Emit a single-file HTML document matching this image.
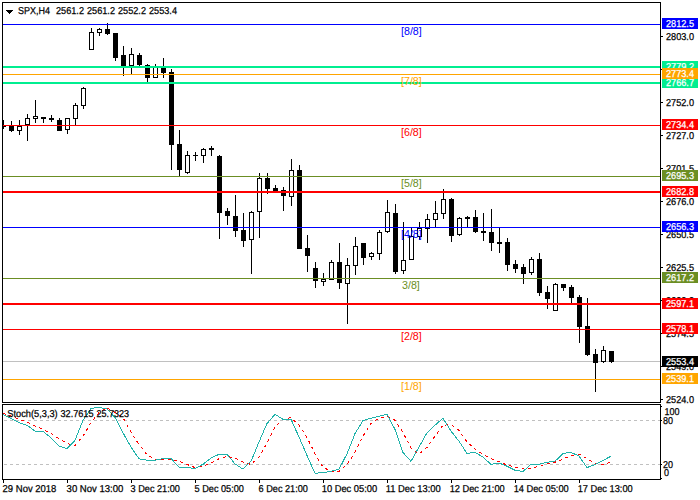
<!DOCTYPE html>
<html lang="en"><head><meta charset="utf-8"><title>SPX,H4</title>
<style>html,body{margin:0;padding:0;background:#fff}svg{display:block}text{font-family:"Liberation Sans",sans-serif}.ax{font-size:10px;text-rendering:geometricPrecision;fill:#000;stroke:#000;stroke-width:.25px}.lb{font-size:10.67px}.bx{font-size:10px;text-rendering:geometricPrecision;fill:#fff;stroke:#fff;stroke-width:.25px}</style></head><body>
<svg width="700" height="500" viewBox="0 0 700 500">
<rect width="700" height="500" fill="#fff"/>
<g shape-rendering="crispEdges">
<rect x="3" y="361" width="657" height="1" fill="#C0C0C0"/>
<g id="candles">
<rect x="3" y="120" width="1" height="9" fill="#000"/>
<rect x="1" y="125" width="5" height="2" fill="#000"/>
<rect x="11" y="121" width="1" height="11" fill="#000"/>
<rect x="9" y="126" width="5" height="5" fill="#000"/>
<rect x="19" y="120" width="1" height="15" fill="#000"/>
<rect x="17" y="126" width="5" height="5" fill="#000"/>
<rect x="18" y="127" width="3" height="3" fill="#fff"/>
<rect x="27" y="114" width="1" height="27" fill="#000"/>
<rect x="25" y="118" width="5" height="7" fill="#000"/>
<rect x="26" y="119" width="3" height="5" fill="#fff"/>
<rect x="35" y="100" width="1" height="23" fill="#000"/>
<rect x="33" y="116" width="5" height="3" fill="#000"/>
<rect x="34" y="117" width="3" height="1" fill="#fff"/>
<rect x="43" y="117" width="1" height="6" fill="#000"/>
<rect x="41" y="117" width="5" height="2" fill="#000"/>
<rect x="51" y="115" width="1" height="7" fill="#000"/>
<rect x="49" y="118" width="5" height="2" fill="#000"/>
<rect x="59" y="118" width="1" height="13" fill="#000"/>
<rect x="57" y="120" width="5" height="11" fill="#000"/>
<rect x="67" y="118" width="1" height="16" fill="#000"/>
<rect x="65" y="118" width="5" height="12" fill="#000"/>
<rect x="66" y="119" width="3" height="10" fill="#fff"/>
<rect x="75" y="103" width="1" height="23" fill="#000"/>
<rect x="73" y="105" width="5" height="14" fill="#000"/>
<rect x="74" y="106" width="3" height="12" fill="#fff"/>
<rect x="83" y="87" width="1" height="22" fill="#000"/>
<rect x="81" y="88" width="5" height="18" fill="#000"/>
<rect x="82" y="89" width="3" height="16" fill="#fff"/>
<rect x="91" y="28" width="1" height="22" fill="#000"/>
<rect x="89" y="32" width="5" height="18" fill="#000"/>
<rect x="90" y="33" width="3" height="16" fill="#fff"/>
<rect x="99" y="28" width="1" height="8" fill="#000"/>
<rect x="97" y="29" width="5" height="4" fill="#000"/>
<rect x="98" y="30" width="3" height="2" fill="#fff"/>
<rect x="107" y="23" width="1" height="12" fill="#000"/>
<rect x="105" y="29" width="5" height="5" fill="#000"/>
<rect x="115" y="33" width="1" height="28" fill="#000"/>
<rect x="113" y="33" width="5" height="25" fill="#000"/>
<rect x="123" y="46" width="1" height="30" fill="#000"/>
<rect x="121" y="55" width="5" height="11" fill="#000"/>
<rect x="131" y="48" width="1" height="27" fill="#000"/>
<rect x="129" y="54" width="5" height="12" fill="#000"/>
<rect x="130" y="55" width="3" height="10" fill="#fff"/>
<rect x="139" y="53" width="1" height="13" fill="#000"/>
<rect x="137" y="55" width="5" height="10" fill="#000"/>
<rect x="147" y="64" width="1" height="18" fill="#000"/>
<rect x="145" y="65" width="5" height="13" fill="#000"/>
<rect x="155" y="64" width="1" height="14" fill="#000"/>
<rect x="153" y="66" width="5" height="12" fill="#000"/>
<rect x="154" y="67" width="3" height="10" fill="#fff"/>
<rect x="163" y="58" width="1" height="20" fill="#000"/>
<rect x="161" y="68" width="5" height="5" fill="#000"/>
<rect x="171" y="69" width="1" height="101" fill="#000"/>
<rect x="169" y="72" width="5" height="73" fill="#000"/>
<rect x="179" y="130" width="1" height="47" fill="#000"/>
<rect x="177" y="144" width="5" height="26" fill="#000"/>
<rect x="187" y="151" width="1" height="23" fill="#000"/>
<rect x="185" y="155" width="5" height="18" fill="#000"/>
<rect x="186" y="156" width="3" height="16" fill="#fff"/>
<rect x="195" y="152" width="1" height="9" fill="#000"/>
<rect x="193" y="155" width="5" height="1" fill="#000"/>
<rect x="203" y="148" width="1" height="15" fill="#000"/>
<rect x="201" y="149" width="5" height="7" fill="#000"/>
<rect x="202" y="150" width="3" height="5" fill="#fff"/>
<rect x="211" y="146" width="1" height="10" fill="#000"/>
<rect x="209" y="148" width="5" height="2" fill="#000"/>
<rect x="219" y="155" width="1" height="84" fill="#000"/>
<rect x="217" y="156" width="5" height="57" fill="#000"/>
<rect x="227" y="208" width="1" height="17" fill="#000"/>
<rect x="225" y="211" width="5" height="5" fill="#000"/>
<rect x="235" y="195" width="1" height="42" fill="#000"/>
<rect x="233" y="216" width="5" height="15" fill="#000"/>
<rect x="243" y="213" width="1" height="34" fill="#000"/>
<rect x="241" y="230" width="5" height="11" fill="#000"/>
<rect x="251" y="211" width="1" height="63" fill="#000"/>
<rect x="249" y="212" width="5" height="28" fill="#000"/>
<rect x="250" y="213" width="3" height="26" fill="#fff"/>
<rect x="259" y="173" width="1" height="65" fill="#000"/>
<rect x="257" y="178" width="5" height="34" fill="#000"/>
<rect x="258" y="179" width="3" height="32" fill="#fff"/>
<rect x="267" y="173" width="1" height="21" fill="#000"/>
<rect x="265" y="178" width="5" height="11" fill="#000"/>
<rect x="275" y="185" width="1" height="7" fill="#000"/>
<rect x="273" y="188" width="5" height="4" fill="#000"/>
<rect x="283" y="187" width="1" height="24" fill="#000"/>
<rect x="281" y="190" width="5" height="6" fill="#000"/>
<rect x="291" y="159" width="1" height="47" fill="#000"/>
<rect x="289" y="170" width="5" height="27" fill="#000"/>
<rect x="290" y="171" width="3" height="25" fill="#fff"/>
<rect x="299" y="165" width="1" height="84" fill="#000"/>
<rect x="297" y="170" width="5" height="79" fill="#000"/>
<rect x="307" y="235" width="1" height="37" fill="#000"/>
<rect x="305" y="248" width="5" height="8" fill="#000"/>
<rect x="315" y="262" width="1" height="26" fill="#000"/>
<rect x="313" y="268" width="5" height="13" fill="#000"/>
<rect x="323" y="273" width="1" height="13" fill="#000"/>
<rect x="321" y="279" width="5" height="3" fill="#000"/>
<rect x="322" y="280" width="3" height="1" fill="#fff"/>
<rect x="331" y="260" width="1" height="20" fill="#000"/>
<rect x="329" y="262" width="5" height="18" fill="#000"/>
<rect x="330" y="263" width="3" height="16" fill="#fff"/>
<rect x="339" y="243" width="1" height="46" fill="#000"/>
<rect x="337" y="262" width="5" height="21" fill="#000"/>
<rect x="347" y="258" width="1" height="66" fill="#000"/>
<rect x="345" y="265" width="5" height="19" fill="#000"/>
<rect x="346" y="266" width="3" height="17" fill="#fff"/>
<rect x="355" y="237" width="1" height="38" fill="#000"/>
<rect x="353" y="246" width="5" height="20" fill="#000"/>
<rect x="354" y="247" width="3" height="18" fill="#fff"/>
<rect x="363" y="243" width="1" height="22" fill="#000"/>
<rect x="361" y="243" width="5" height="15" fill="#000"/>
<rect x="371" y="252" width="1" height="8" fill="#000"/>
<rect x="369" y="253" width="5" height="4" fill="#000"/>
<rect x="370" y="254" width="3" height="2" fill="#fff"/>
<rect x="379" y="230" width="1" height="30" fill="#000"/>
<rect x="377" y="232" width="5" height="22" fill="#000"/>
<rect x="378" y="233" width="3" height="20" fill="#fff"/>
<rect x="387" y="200" width="1" height="33" fill="#000"/>
<rect x="385" y="212" width="5" height="20" fill="#000"/>
<rect x="386" y="213" width="3" height="18" fill="#fff"/>
<rect x="395" y="204" width="1" height="70" fill="#000"/>
<rect x="393" y="213" width="5" height="59" fill="#000"/>
<rect x="403" y="222" width="1" height="52" fill="#000"/>
<rect x="401" y="260" width="5" height="11" fill="#000"/>
<rect x="402" y="261" width="3" height="9" fill="#fff"/>
<rect x="411" y="228" width="1" height="32" fill="#000"/>
<rect x="409" y="236" width="5" height="24" fill="#000"/>
<rect x="410" y="237" width="3" height="22" fill="#fff"/>
<rect x="419" y="222" width="1" height="18" fill="#000"/>
<rect x="417" y="228" width="5" height="9" fill="#000"/>
<rect x="418" y="229" width="3" height="7" fill="#fff"/>
<rect x="427" y="214" width="1" height="29" fill="#000"/>
<rect x="425" y="219" width="5" height="10" fill="#000"/>
<rect x="426" y="220" width="3" height="8" fill="#fff"/>
<rect x="435" y="201" width="1" height="27" fill="#000"/>
<rect x="433" y="213" width="5" height="7" fill="#000"/>
<rect x="434" y="214" width="3" height="5" fill="#fff"/>
<rect x="443" y="189" width="1" height="30" fill="#000"/>
<rect x="441" y="199" width="5" height="15" fill="#000"/>
<rect x="442" y="200" width="3" height="13" fill="#fff"/>
<rect x="451" y="198" width="1" height="44" fill="#000"/>
<rect x="449" y="199" width="5" height="37" fill="#000"/>
<rect x="459" y="217" width="1" height="19" fill="#000"/>
<rect x="457" y="218" width="5" height="17" fill="#000"/>
<rect x="458" y="219" width="3" height="15" fill="#fff"/>
<rect x="467" y="216" width="1" height="12" fill="#000"/>
<rect x="465" y="217" width="5" height="2" fill="#000"/>
<rect x="475" y="210" width="1" height="23" fill="#000"/>
<rect x="473" y="217" width="5" height="15" fill="#000"/>
<rect x="483" y="213" width="1" height="28" fill="#000"/>
<rect x="481" y="231" width="5" height="2" fill="#000"/>
<rect x="491" y="209" width="1" height="42" fill="#000"/>
<rect x="489" y="232" width="5" height="11" fill="#000"/>
<rect x="499" y="227" width="1" height="26" fill="#000"/>
<rect x="497" y="242" width="5" height="2" fill="#000"/>
<rect x="507" y="238" width="1" height="33" fill="#000"/>
<rect x="505" y="242" width="5" height="23" fill="#000"/>
<rect x="515" y="260" width="1" height="13" fill="#000"/>
<rect x="513" y="264" width="5" height="5" fill="#000"/>
<rect x="523" y="264" width="1" height="20" fill="#000"/>
<rect x="521" y="267" width="5" height="7" fill="#000"/>
<rect x="531" y="257" width="1" height="18" fill="#000"/>
<rect x="529" y="259" width="5" height="14" fill="#000"/>
<rect x="530" y="260" width="3" height="12" fill="#fff"/>
<rect x="539" y="253" width="1" height="43" fill="#000"/>
<rect x="537" y="259" width="5" height="34" fill="#000"/>
<rect x="547" y="286" width="1" height="23" fill="#000"/>
<rect x="545" y="292" width="5" height="7" fill="#000"/>
<rect x="555" y="283" width="1" height="28" fill="#000"/>
<rect x="553" y="284" width="5" height="27" fill="#000"/>
<rect x="554" y="285" width="3" height="25" fill="#fff"/>
<rect x="563" y="284" width="1" height="7" fill="#000"/>
<rect x="561" y="284" width="5" height="4" fill="#000"/>
<rect x="571" y="285" width="1" height="18" fill="#000"/>
<rect x="569" y="287" width="5" height="11" fill="#000"/>
<rect x="579" y="295" width="1" height="48" fill="#000"/>
<rect x="577" y="297" width="5" height="30" fill="#000"/>
<rect x="587" y="298" width="1" height="58" fill="#000"/>
<rect x="585" y="326" width="5" height="29" fill="#000"/>
<rect x="595" y="349" width="1" height="43" fill="#000"/>
<rect x="593" y="354" width="5" height="9" fill="#000"/>
<rect x="603" y="346" width="1" height="17" fill="#000"/>
<rect x="601" y="350" width="5" height="12" fill="#000"/>
<rect x="602" y="351" width="3" height="10" fill="#fff"/>
<rect x="611" y="351" width="1" height="12" fill="#000"/>
<rect x="609" y="351" width="5" height="11" fill="#000"/>
</g>
<rect x="0" y="100" width="2" height="60" fill="#fff"/>
<g id="levels">
<rect x="3" y="24" width="657" height="1" fill="#0000FF"/>
<rect x="3" y="66" width="657" height="2" fill="#00EE90"/>
<rect x="3" y="82" width="657" height="2" fill="#00EE90"/>
<rect x="3" y="74" width="657" height="1" fill="#FFA500"/>
<rect x="3" y="125" width="657" height="1" fill="#FF0000"/>
<rect x="3" y="176" width="657" height="1" fill="#6B8E23"/>
<rect x="3" y="191" width="657" height="2" fill="#FF0000"/>
<rect x="3" y="227" width="657" height="1" fill="#0000FF"/>
<rect x="3" y="278" width="657" height="1" fill="#6B8E23"/>
<rect x="3" y="303" width="657" height="2" fill="#FF0000"/>
<rect x="3" y="329" width="657" height="1" fill="#FF0000"/>
<rect x="3" y="379" width="657" height="1" fill="#FFA500"/>
</g>
<line x1="4" y1="420.5" x2="660" y2="420.5" stroke="#C0C0C0" stroke-width="1" stroke-dasharray="3 3"/>
<line x1="4" y1="464.5" x2="660" y2="464.5" stroke="#C0C0C0" stroke-width="1" stroke-dasharray="3 3"/>
<polyline points="3,413.4 11,416.0 19,419.3 27,421.8 35,426.0 43,429.4 51,433.6 59,438.6 67,443.4 75,445.4 83,436.1 91,422.7 99,412.6 107,407.8 115,412.6 123,417.6 131,432.0 139,444.5 147,454.6 155,459.7 163,459.7 171,459.2 179,461.3 187,464.4 195,467.6 203,466.4 211,463.0 219,458.8 227,456.3 235,458.0 243,462.2 251,464.4 259,457.1 267,442.9 275,426.9 283,419.3 291,417.6 299,425.2 307,437.4 315,453.7 323,467.2 331,471.4 339,471.4 347,464.7 355,452.1 363,436.1 371,423.5 379,418.2 387,416.3 395,420.2 403,432.7 411,447.9 419,454.1 427,447.4 435,436.1 443,425.2 451,424.7 459,430.3 467,442.0 475,449.1 483,454.6 491,458.5 499,461.8 507,465.0 515,467.2 523,468.9 531,468.1 539,466.4 547,463.5 555,462.2 563,459.2 571,455.5 579,454.1 587,458.8 595,463.5 603,464.4 611,462.2" fill="none" stroke="#FF0000" stroke-width="1" stroke-dasharray="3 3.5"/>
<polyline points="3,414.3 11,418.5 19,422.7 27,425.2 35,431.1 43,431.4 51,437.8 59,446.2 67,448.7 75,440.3 83,420.2 91,408.6 99,407.2 107,409.1 115,417.4 123,432.8 131,447.0 139,458.8 147,460.2 155,460.2 163,458.5 171,458.5 179,467.2 187,467.6 195,468.4 203,464.3 211,458.0 219,454.3 227,454.3 235,463.9 243,469.2 251,461.3 259,442.0 267,423.5 275,414.3 283,419.3 291,419.3 299,437.0 307,455.5 315,473.3 323,472.6 331,471.4 339,469.2 347,453.8 355,433.6 363,420.5 371,418.2 379,416.3 387,414.3 395,429.4 403,452.5 411,461.3 419,447.0 427,432.8 435,425.2 443,418.2 451,431.1 459,441.2 467,453.4 475,452.4 483,457.1 491,464.4 499,463.0 507,466.2 515,470.3 523,471.4 531,464.4 539,464.4 547,462.2 555,461.3 563,453.4 571,452.4 579,456.0 587,467.6 595,464.5 603,460.4 611,456.2" fill="none" stroke="#20B2AA" stroke-width="1"/>
<rect x="2" y="2" width="659" height="1" fill="#000"/>
<rect x="2" y="2" width="1" height="401" fill="#000"/>
<rect x="660" y="2" width="1" height="401" fill="#000"/>
<rect x="660" y="404" width="1" height="76" fill="#000"/>
<rect x="2" y="402" width="659" height="1" fill="#000"/>
<rect x="2" y="404" width="659" height="1" fill="#000"/>
<rect x="2" y="404" width="1" height="76" fill="#000"/>
<rect x="2" y="479" width="659" height="1" fill="#000"/>
<rect x="661" y="36" width="2" height="1" fill="#000"/>
<rect x="661" y="69" width="2" height="1" fill="#000"/>
<rect x="661" y="102" width="2" height="1" fill="#000"/>
<rect x="661" y="135" width="2" height="1" fill="#000"/>
<rect x="661" y="168" width="2" height="1" fill="#000"/>
<rect x="661" y="201" width="2" height="1" fill="#000"/>
<rect x="661" y="234" width="2" height="1" fill="#000"/>
<rect x="661" y="267" width="2" height="1" fill="#000"/>
<rect x="661" y="300" width="2" height="1" fill="#000"/>
<rect x="661" y="333" width="2" height="1" fill="#000"/>
<rect x="661" y="366" width="2" height="1" fill="#000"/>
<rect x="661" y="399" width="2" height="1" fill="#000"/>
<rect x="661" y="406" width="1" height="1" fill="#000"/>
<rect x="661" y="420" width="1" height="1" fill="#000"/>
<rect x="661" y="464" width="1" height="1" fill="#000"/>
<rect x="661" y="478" width="1" height="1" fill="#000"/>
<rect x="3" y="480" width="1" height="3" fill="#000"/>
<rect x="67" y="480" width="1" height="3" fill="#000"/>
<rect x="131" y="480" width="1" height="3" fill="#000"/>
<rect x="195" y="480" width="1" height="3" fill="#000"/>
<rect x="259" y="480" width="1" height="3" fill="#000"/>
<rect x="323" y="480" width="1" height="3" fill="#000"/>
<rect x="387" y="480" width="1" height="3" fill="#000"/>
<rect x="451" y="480" width="1" height="3" fill="#000"/>
<rect x="515" y="480" width="1" height="3" fill="#000"/>
<rect x="579" y="480" width="1" height="3" fill="#000"/>
<rect x="6" y="10" width="7" height="1" fill="#000"/>
<rect x="7" y="11" width="5" height="1" fill="#000"/>
<rect x="8" y="12" width="3" height="1" fill="#000"/>
<rect x="9" y="13" width="1" height="1" fill="#000"/>
</g>
<text x="18" y="14" class="ax" textLength="32" lengthAdjust="spacingAndGlyphs">SPX,H4</text>
<text x="56" y="14" class="ax" textLength="28" lengthAdjust="spacingAndGlyphs">2561.2</text>
<text x="87" y="14" class="ax" textLength="28" lengthAdjust="spacingAndGlyphs">2561.2</text>
<text x="118" y="14" class="ax" textLength="28" lengthAdjust="spacingAndGlyphs">2552.2</text>
<text x="149" y="14" class="ax" textLength="28" lengthAdjust="spacingAndGlyphs">2553.4</text>
<text x="7.3" y="417" class="ax" textLength="50.4" lengthAdjust="spacingAndGlyphs">Stoch(5,3,3)</text>
<text x="60.5" y="417" class="ax" textLength="33" lengthAdjust="spacingAndGlyphs">32.7615</text>
<text x="96.4" y="417" class="ax" textLength="32.6" lengthAdjust="spacingAndGlyphs">25.7323</text>
<text x="401" y="35" class="lb" fill="#0000FF">[8/8]</text>
<text x="401" y="85" class="lb" fill="#FFA500">[7/8]</text>
<text x="401" y="136" class="lb" fill="#FF0000">[6/8]</text>
<text x="401" y="187" class="lb" fill="#6B8E23">[5/8]</text>
<text x="401" y="238" class="lb" fill="#0000FF">[4/8]</text>
<text x="402" y="289" class="lb" fill="#6B8E23">3/8]</text>
<text x="401" y="340" class="lb" fill="#FF0000">[2/8]</text>
<text x="401" y="390" class="lb" fill="#FFA500">[1/8]</text>
<text x="666" y="40" class="ax" textLength="28" lengthAdjust="spacingAndGlyphs">2803.0</text>
<text x="666" y="73" class="ax" textLength="28" lengthAdjust="spacingAndGlyphs">2777.5</text>
<text x="666" y="106" class="ax" textLength="28" lengthAdjust="spacingAndGlyphs">2752.0</text>
<text x="666" y="139" class="ax" textLength="28" lengthAdjust="spacingAndGlyphs">2727.0</text>
<text x="666" y="172" class="ax" textLength="28" lengthAdjust="spacingAndGlyphs">2701.5</text>
<text x="666" y="205" class="ax" textLength="28" lengthAdjust="spacingAndGlyphs">2676.0</text>
<text x="666" y="238" class="ax" textLength="28" lengthAdjust="spacingAndGlyphs">2650.5</text>
<text x="666" y="271" class="ax" textLength="28" lengthAdjust="spacingAndGlyphs">2625.5</text>
<text x="666" y="304" class="ax" textLength="28" lengthAdjust="spacingAndGlyphs">2600.0</text>
<text x="666" y="337" class="ax" textLength="28" lengthAdjust="spacingAndGlyphs">2574.5</text>
<text x="666" y="370" class="ax" textLength="28" lengthAdjust="spacingAndGlyphs">2549.0</text>
<text x="666" y="403" class="ax" textLength="28" lengthAdjust="spacingAndGlyphs">2524.0</text>
<text x="664.5" y="415" class="ax" textLength="15" lengthAdjust="spacingAndGlyphs">100</text>
<text x="663" y="424" class="ax" textLength="10" lengthAdjust="spacingAndGlyphs">80</text>
<text x="663" y="468" class="ax" textLength="10" lengthAdjust="spacingAndGlyphs">20</text>
<text x="664" y="476" class="ax" textLength="5" lengthAdjust="spacingAndGlyphs">0</text>
<text x="2.6" y="492" class="ax" textLength="53.8" lengthAdjust="spacingAndGlyphs">29 Nov 2018</text>
<text x="66.6" y="492" class="ax" textLength="56.8" lengthAdjust="spacingAndGlyphs">30 Nov 13:00</text>
<text x="130.6" y="492" class="ax" textLength="49.3" lengthAdjust="spacingAndGlyphs">3 Dec 21:00</text>
<text x="194.6" y="492" class="ax" textLength="49.3" lengthAdjust="spacingAndGlyphs">5 Dec 05:00</text>
<text x="258.6" y="492" class="ax" textLength="49.3" lengthAdjust="spacingAndGlyphs">6 Dec 21:00</text>
<text x="321.7" y="492" class="ax" textLength="55.5" lengthAdjust="spacingAndGlyphs">10 Dec 05:00</text>
<text x="385.7" y="492" class="ax" textLength="55" lengthAdjust="spacingAndGlyphs">11 Dec 13:00</text>
<text x="449.7" y="492" class="ax" textLength="55" lengthAdjust="spacingAndGlyphs">12 Dec 21:00</text>
<text x="513.7" y="492" class="ax" textLength="55" lengthAdjust="spacingAndGlyphs">14 Dec 05:00</text>
<text x="577.7" y="492" class="ax" textLength="55" lengthAdjust="spacingAndGlyphs">17 Dec 13:00</text>
<g shape-rendering="crispEdges">
</g>
<rect x="662" y="61" width="36" height="11" fill="#00EE90" shape-rendering="crispEdges"/>
<text x="666" y="70" class="bx" textLength="28" lengthAdjust="spacingAndGlyphs">2779.2</text>
<rect x="662" y="77" width="36" height="11" fill="#00EE90" shape-rendering="crispEdges"/>
<text x="666" y="86" class="bx" textLength="28" lengthAdjust="spacingAndGlyphs">2766.7</text>
<rect x="662" y="18" width="36" height="11" fill="#0000FF" shape-rendering="crispEdges"/>
<text x="666" y="27" class="bx" textLength="28" lengthAdjust="spacingAndGlyphs">2812.5</text>
<rect x="662" y="68" width="36" height="11" fill="#FFA500" shape-rendering="crispEdges"/>
<text x="666" y="77" class="bx" textLength="28" lengthAdjust="spacingAndGlyphs">2773.4</text>
<rect x="662" y="119" width="36" height="11" fill="#FF0000" shape-rendering="crispEdges"/>
<text x="666" y="128" class="bx" textLength="28" lengthAdjust="spacingAndGlyphs">2734.4</text>
<rect x="662" y="170" width="36" height="11" fill="#6B8E23" shape-rendering="crispEdges"/>
<text x="666" y="179" class="bx" textLength="28" lengthAdjust="spacingAndGlyphs">2695.3</text>
<rect x="662" y="186" width="36" height="11" fill="#FF0000" shape-rendering="crispEdges"/>
<text x="666" y="195" class="bx" textLength="28" lengthAdjust="spacingAndGlyphs">2682.8</text>
<rect x="662" y="221" width="36" height="11" fill="#0000FF" shape-rendering="crispEdges"/>
<text x="666" y="230" class="bx" textLength="28" lengthAdjust="spacingAndGlyphs">2656.3</text>
<rect x="662" y="272" width="36" height="11" fill="#6B8E23" shape-rendering="crispEdges"/>
<text x="666" y="281" class="bx" textLength="28" lengthAdjust="spacingAndGlyphs">2617.2</text>
<rect x="662" y="298" width="36" height="11" fill="#FF0000" shape-rendering="crispEdges"/>
<text x="666" y="307" class="bx" textLength="28" lengthAdjust="spacingAndGlyphs">2597.1</text>
<rect x="662" y="323" width="36" height="11" fill="#FF0000" shape-rendering="crispEdges"/>
<text x="666" y="332" class="bx" textLength="28" lengthAdjust="spacingAndGlyphs">2578.1</text>
<rect x="662" y="373" width="36" height="11" fill="#FFA500" shape-rendering="crispEdges"/>
<text x="666" y="382" class="bx" textLength="28" lengthAdjust="spacingAndGlyphs">2539.1</text>
<rect x="662" y="356" width="36" height="11" fill="#000" shape-rendering="crispEdges"/>
<text x="666" y="365" class="bx" textLength="28" lengthAdjust="spacingAndGlyphs">2553.4</text>
</svg></body></html>
